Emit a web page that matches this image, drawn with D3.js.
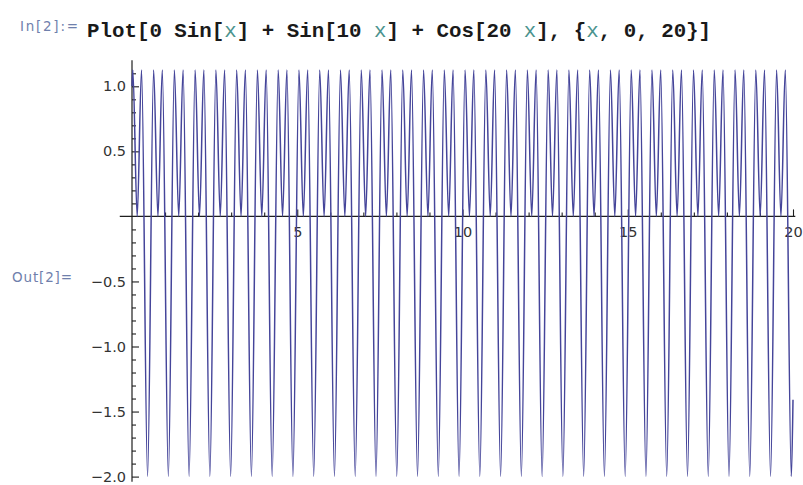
<!DOCTYPE html>
<html>
<head>
<meta charset="utf-8">
<script src="https://cdn.jsdelivr.net/npm/d3@7"></script>
<style>
  html, body { margin: 0; padding: 0; background: #fff; }
  svg { display: block; }
</style>
</head>
<body>
<div id="root"></div>
<script>
// x positions (the curve's extremes)
const peakXs = [
  0.025, 0.289, 0.654, 0.917, 1.282, 1.546, 1.910, 2.174, 2.539, 2.802,
  3.167, 3.430, 3.795, 4.059, 4.424, 4.687, 5.052, 5.315, 5.680, 5.944,
  6.308, 6.572, 6.937, 7.200, 7.565, 7.829, 8.193, 8.457, 8.822, 9.085,
  9.450, 9.714, 10.078, 10.342, 10.707, 10.970, 11.335, 11.599, 11.963, 12.227,
  12.592, 12.855, 13.220, 13.484, 13.848, 14.112, 14.477, 14.740, 15.105, 15.369,
  15.733, 15.997, 16.362, 16.625, 16.990, 17.253, 17.618, 17.882, 18.247, 18.510,
  18.875, 19.138, 19.503, 19.767
]
const notchXs = [
  0.157, 0.785, 1.414, 2.042, 2.670, 3.299, 3.927, 4.555, 5.184, 5.812,
  6.440, 7.069, 7.697, 8.325, 8.954, 9.582, 10.210, 10.839, 11.467, 12.095,
  12.723, 13.352, 13.980, 14.608, 15.237, 15.865, 16.493, 17.122, 17.750, 18.378,
  19.007, 19.635
]
const troughXs = [
  0.471, 1.100, 1.728, 2.356, 2.985, 3.613, 4.241, 4.869, 5.498, 6.126,
  6.754, 7.383, 8.011, 8.639, 9.268, 9.896, 10.524, 11.153, 11.781, 12.409,
  13.038, 13.666, 14.294, 14.923, 15.551, 16.179, 16.808, 17.436, 18.064, 18.692,
  19.321, 19.949
]
const PEAK_Y = 1.125
const NOTCH_Y = 0
const TROUGH_Y = -2
const edgeXs = [0, 20]
const edgeYs = [1.0, -1.41]

const xMajorTicks = [5, 10, 15, 20]
const yMajorTicks = [-2, -1.5, -1, -0.5, 0.5, 1]

const inputLabel = 'In[2]:='
const outputLabel = 'Out[2]='
const codePieces = [
  ['Plot[0 Sin[', false], ['x', true], ['] + Sin[10 ', false], ['x', true],
  ['] + Cos[20 ', false], ['x', true], ['], {', false], ['x', true], [', 0, 20}]', false]
]

const WIDTH = 803
const HEIGHT = 485
const LINE_COLOR = '#45459a'
const AXIS_COLOR = '#1e1e1e'
const MAJOR_TICK = 7
const MINOR_TICK = 4

const svg = d3.select('#root')
  .append('svg')
  .attr('width', WIDTH)
  .attr('height', HEIGHT)
  .style('background', '#fff')

const xScale = d3.scaleLinear().domain([0, 20]).range([132, 793])
const yScale = d3.scaleLinear().domain([-2, 1]).range([476.6, 86.3])

// header
svg.append('text')
  .attr('x', 20).attr('y', 31)
  .attr('font-family', 'DejaVu Sans, sans-serif')
  .attr('font-size', 13.5)
  .attr('fill', '#6f80ac')
  .attr('textLength', 58)
  .attr('lengthAdjust', 'spacing')
  .text(inputLabel)

const code = svg.append('text')
  .attr('x', 87).attr('y', 37)
  .attr('font-family', 'Liberation Mono, monospace')
  .attr('font-weight', 'bold')
  .attr('font-size', 20.8)
  .attr('fill', '#1a1a1a')

code.selectAll('tspan')
  .data(codePieces)
  .enter()
  .append('tspan')
  .attr('fill', d => d[1] ? '#4b938e' : '#1a1a1a')
  .attr('font-weight', d => d[1] ? 'normal' : 'bold')
  .text(d => d[0])

svg.append('text')
  .attr('x', 12).attr('y', 282)
  .attr('font-family', 'DejaVu Sans, sans-serif')
  .attr('font-size', 13.5)
  .attr('fill', '#6f80ac')
  .attr('textLength', 60)
  .attr('lengthAdjust', 'spacing')
  .text(outputLabel)

// axes
const tickFormat = d3.format('.1f')

const yMinor = svg.append('g')
  .attr('transform', `translate(${xScale(0)},0)`)
  .call(d3.axisLeft(yScale)
    .tickValues(d3.range(-20, 12).map(v => v / 10).filter(v => Math.abs(v * 2 - Math.round(v * 2)) > 1e-6))
    .tickSizeInner(-MINOR_TICK).tickSizeOuter(0).tickFormat(''))

const yMajor = svg.append('g')
  .attr('transform', `translate(${xScale(0)},0)`)
  .call(d3.axisLeft(yScale)
    .tickValues(yMajorTicks)
    .tickSizeInner(-MAJOR_TICK).tickSizeOuter(0).tickPadding(6)
    .tickFormat(tickFormat))

const xMinor = svg.append('g')
  .attr('transform', `translate(0,${yScale(0)})`)
  .call(d3.axisBottom(xScale)
    .tickValues(d3.range(1, 20).filter(v => v % 5 !== 0))
    .tickSizeInner(-MINOR_TICK).tickSizeOuter(0).tickFormat(''))

const xMajor = svg.append('g')
  .attr('transform', `translate(0,${yScale(0)})`)
  .call(d3.axisBottom(xScale)
    .tickValues(xMajorTicks)
    .tickSizeInner(-MAJOR_TICK).tickSizeOuter(0).tickPadding(10)
    .tickFormat(d3.format('d')))

for (const g of [yMinor, yMajor, xMinor, xMajor]) {
  g.select('.domain').remove()
  g.selectAll('line').attr('stroke', AXIS_COLOR).attr('stroke-width', 1.1)
  g.selectAll('text')
    .attr('font-family', 'DejaVu Sans, sans-serif')
    .attr('font-size', 14.5)
    .attr('fill', '#333')
}

svg.append('line')
  .attr('x1', xScale(-0.37)).attr('x2', xScale(20.07))
  .attr('y1', yScale(0)).attr('y2', yScale(0))
  .attr('stroke', AXIS_COLOR).attr('stroke-width', 1.2)

svg.append('line')
  .attr('x1', xScale(0)).attr('x2', xScale(0))
  .attr('y1', yScale(1.2)).attr('y2', yScale(-2.04))
  .attr('stroke', AXIS_COLOR).attr('stroke-width', 1.2)

// curve
const points = [
  ...edgeXs.map((x, i) => [x, edgeYs[i]]),
  ...peakXs.map(x => [x, PEAK_Y]),
  ...notchXs.map(x => [x, NOTCH_Y]),
  ...troughXs.map(x => [x, TROUGH_Y])
].sort((a, b) => a[0] - b[0])

const line = d3.line()
  .x(d => xScale(d[0]))
  .y(d => yScale(d[1]))
  .curve(d3.curveMonotoneX)

svg.append('path')
  .datum(points)
  .attr('d', line)
  .attr('fill', 'none')
  .attr('stroke', LINE_COLOR)
  .attr('stroke-width', 1.5)
  .attr('stroke-linejoin', 'round')
</script>
</body>
</html>
